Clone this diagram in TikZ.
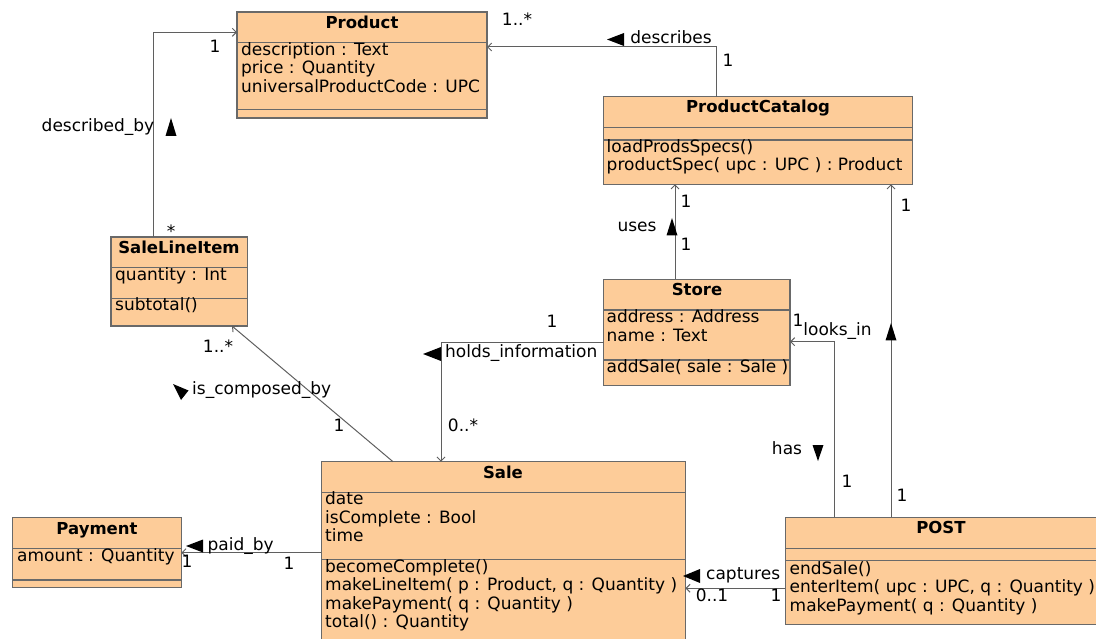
\documentclass[tikz,border=0pt]{standalone}
\usepackage{fontspec}
\setmainfont{DejaVu Sans}
\usetikzlibrary{arrows.meta}
\definecolor{clsfill}{RGB}{253,204,153}
\definecolor{clsline}{RGB}{105,105,105}
\definecolor{conline}{RGB}{95,95,95}
\tikzset{
  cls/.style={draw=clsline, fill=clsfill, line width=1.3pt, anchor=north west, inner sep=0pt, outer sep=0pt},
  div/.style={draw=clsline, line width=1.1pt},
  txt/.style={font=\fontsize{17}{18}\selectfont, inner sep=0pt, text height=12.5pt, text depth=3.5pt},
  ttl/.style={txt, font=\fontsize{16.5}{18}\selectfont\bfseries},
  mem/.style={txt, anchor=west},
  assoc/.style={draw=conline, line width=1pt, -{Straight Barb[length=4pt,width=8pt]}},
  dirtri/.style={fill=black}
}
\begin{document}
\begin{tikzpicture}[x=1pt,y=-1pt]
\useasboundingbox (0,0) rectangle (1096,639);

% ---------- classes ----------
\node[cls, minimum width=250pt, minimum height=106pt] (product) at (237,12) {};
\draw[div] (237,42.7) -- (487,42.7);
\draw[div] (237,109.7) -- (487,109.7);
\node[ttl] (productT) at (362,24) {Product};
\node[mem] (productA1) at (241,51) {description : Text};
\node[mem] (productA2) at (241,69.5) {price : Quantity};
\node[mem] (productA3) at (241,88) {universalProductCode : UPC};

\node[cls, minimum width=309.1pt, minimum height=87.6pt] (catalog) at (603.7,96.7) {};
\draw[div] (603.7,127.3) -- (912.8,127.3);
\draw[div] (603.7,140) -- (912.8,140);
\node[ttl] (catalogT) at (758,108) {ProductCatalog};
\node[mem] (catalogM1) at (606.5,148) {loadProdsSpecs()};
\node[mem] (catalogM2) at (606.5,166.5) {productSpec( upc : UPC ) : Product};

\node[cls, minimum width=186.3pt, minimum height=106.4pt] (store) at (603.7,279.3) {};
\draw[div] (603.7,310) -- (790,310);
\draw[div] (603.7,360) -- (790,360);
\node[ttl] (storeT) at (697,291) {Store};
\node[mem] (storeA1) at (606.5,318.5) {address : Address};
\node[mem] (storeA2) at (606.5,337) {name : Text};
\node[mem] (storeM1) at (606.5,368) {addSale( sale : Sale )};

\node[cls, minimum width=136.4pt, minimum height=89pt] (saleline) at (111,237) {};
\draw[div] (111,267.7) -- (247.4,267.7);
\draw[div] (111,298.3) -- (247.4,298.3);
\node[ttl] (salelineT) at (179,249.5) {SaleLineItem};
\node[mem] (salelineA1) at (115,276) {quantity : Int};
\node[mem] (salelineM1) at (115,306) {subtotal()};

\node[cls, minimum width=364pt, minimum height=190pt] (sale) at (321.4,461.7) {};
\draw[div] (321.4,492.3) -- (685.4,492.3);
\draw[div, line width=0.7pt] (321.4,559.3) -- (685.4,559.3);
\node[ttl] (saleT) at (503,473.5) {Sale};
\node[mem] (saleA1) at (325,500) {date};
\node[mem] (saleA2) at (325,518.5) {isComplete : Bool};
\node[mem] (saleA3) at (325,537) {time};
\node[mem] (saleM1) at (325,568) {becomeComplete()};
\node[mem] (saleM2) at (325,586) {makeLineItem( p : Product, q : Quantity )};
\node[mem] (saleM3) at (325,604.5) {makePayment( q : Quantity )};
\node[mem] (saleM4) at (325,622.5) {total() : Quantity};

\node[cls, minimum width=168.8pt, minimum height=69.6pt] (payment) at (12.5,517.7) {};
\draw[div] (12.5,548.3) -- (181.3,548.3);
\draw[div] (12.5,580) -- (181.3,580);
\node[ttl] (paymentT) at (97,529.5) {Payment};
\node[mem] (paymentA1) at (17,557) {amount : Quantity};

\node[cls, minimum width=313pt, minimum height=107pt] (post) at (785.3,517.3) {};
\draw[div] (785.3,548.3) -- (1098.3,548.3);
\draw[div] (785.3,560.7) -- (1098.3,560.7);
\node[ttl] (postT) at (941,528.5) {POST};
\node[mem] (postM1) at (789.5,569.5) {endSale()};
\node[mem] (postM2) at (789.5,588) {enterItem( upc : UPC, q : Quantity )};
\node[mem] (postM3) at (789.5,606.5) {makePayment( q : Quantity )};

% ---------- connectors ----------
\coordinate (descBend) at (716.4,47);
\draw[assoc] (catalog.north -| descBend) |- (product.east |- descBend);
\coordinate (dbBend) at (153,32.3);
\draw[assoc] (saleline.north -| dbBend) |- (product.west |- dbBend);
\coordinate (usesX) at (675,0);
\draw[assoc] (store.north -| usesX) -- (catalog.south -| usesX);
\coordinate (lookX) at (891,0);
\draw[assoc] (post.north -| lookX) -- (catalog.south -| lookX);
\coordinate (hasBend) at (834.3,341.7);
\draw[assoc] (post.north -| hasBend) |- (store.east |- hasBend);
\coordinate (holdBend) at (441,342.3);
\draw[assoc] (store.west |- holdBend) -| (sale.north -| holdBend);
\coordinate (compA) at (393,0);
\coordinate (compB) at (232,0);
\draw[assoc] (sale.north -| compA) -- (saleline.south -| compB);
\coordinate (paidY) at (0,552.7);
\draw[assoc] (sale.west |- paidY) -- (payment.east |- paidY);
\coordinate (capY) at (0,588.3);
\draw[assoc] (post.west |- capY) -- (sale.east |- capY);

% ---------- direction triangles ----------
\fill[dirtri] (607,39.5) -- (624,33) -- (624,46) -- cycle;
\fill[dirtri] (171,118) -- (165.5,136) -- (176.5,136) -- cycle;
\fill[dirtri] (672,218) -- (666.5,235.5) -- (677.5,235.5) -- cycle;
\fill[dirtri] (891,323) -- (885.5,340.5) -- (896.5,340.5) -- cycle;
\fill[dirtri] (818,461) -- (812.5,445) -- (823.5,445) -- cycle;
\fill[dirtri] (423,354) -- (441,347) -- (441,361) -- cycle;
\fill[dirtri] (186,546) -- (203,539.5) -- (203,552.5) -- cycle;
\fill[dirtri] (683,576) -- (700,569) -- (700,583) -- cycle;
\fill[dirtri] (173,384) -- (188.5,390.5) -- (181,400) -- cycle;

% ---------- labels ----------
\node[txt] (lDescribes) at (671,39.5) {describes};
\node[txt] (mDesc1) at (517,21) {1..*};
\node[txt] (mDesc2) at (728,62) {1};
\node[txt] (lDescribedBy) at (98,127) {described\_by};
\node[txt] (mDb1) at (215,48.5) {1};
\node[txt] (mDb2) at (171,233) {*};
\node[txt] (lUses) at (637,227) {uses};
\node[txt] (mUses1) at (686,203) {1};
\node[txt] (mUses2) at (686,246) {1};
\node[txt] (lLooks) at (837.5,331) {looks\_in};
\node[txt] (mLook1) at (906,207) {1};
\node[txt] (mLook2) at (902,497) {1};
\node[txt] (lHas) at (787,450) {has};
\node[txt] (mHas1) at (798,322) {1};
\node[txt] (mHas2) at (847,483) {1};
\node[txt, anchor=west] (lHolds) at (445,353) {holds\_information};
\node[txt] (mHold1) at (552,323) {1};
\node[txt] (mHold2) at (463,427) {0..*};
\node[txt, anchor=west] (lComp) at (192,390) {is\_composed\_by};
\node[txt] (mComp1) at (218,348) {1..*};
\node[txt] (mComp2) at (339,427) {1};
\node[txt, anchor=west] (lPaid) at (207.5,546) {paid\_by};
\node[txt] (mPaid1) at (187,563) {1};
\node[txt] (mPaid2) at (289,565) {1};
\node[txt, anchor=west] (lCap) at (706,575) {captures};
\node[txt] (mCap1) at (712,597) {0..1};
\node[txt] (mCap2) at (776,597) {1};
\end{tikzpicture}
\end{document}
